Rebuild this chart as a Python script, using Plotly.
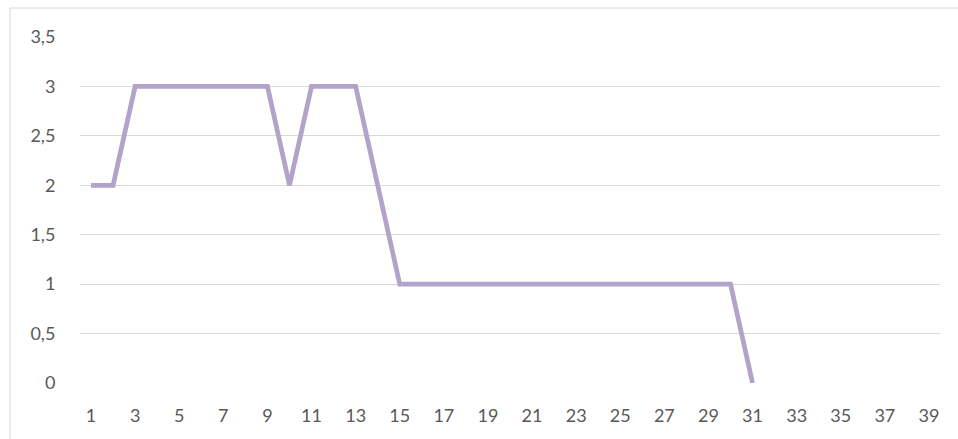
import plotly.graph_objects as go

categories = list(range(1, 40))
values = [2, 2, 3, 3, 3, 3, 3, 3, 3, 2, 3, 3, 3, 2, 1, 1, 1, 1, 1, 1, 1, 1, 1, 1, 1, 1, 1, 1, 1, 1, 0,
          None, None, None, None, None, None, None, None]
x_tick_vals = list(range(1, 40, 2))
y_tick_vals = [0, 0.5, 1, 1.5, 2, 2.5, 3, 3.5]
y_tick_text = ["0", "0,5", "1", "1,5", "2", "2,5", "3", "3,5"]

W, H = 958, 439
L, R, T, B = 79.5, 17.5, 36.5, 56
pw, ph = W - L - R, H - T - B

fig = go.Figure()
fig.add_trace(go.Scatter(
    x=categories, y=values, mode="lines",
    line=dict(color="#B3A3CA", width=4.75),
    connectgaps=False, hoverinfo="skip", showlegend=False,
))

font = dict(family="Lato, Open Sans, sans-serif", size=18, color="#595959")

fig.update_layout(
    width=W, height=H,
    margin=dict(l=L, r=R, t=T, b=B, pad=0),
    paper_bgcolor="white", plot_bgcolor="white",
    font=font,
    xaxis=dict(range=[0.5, 39.5], tickvals=x_tick_vals, showgrid=False,
               zeroline=False, showline=False, ticks="outside", ticklen=16,
               tickcolor="rgba(0,0,0,0)", tickfont=font, fixedrange=True,
               automargin=False),
    yaxis=dict(range=[0, 3.5], tickvals=y_tick_vals, ticktext=y_tick_text,
               showgrid=True, gridcolor="#D9D9D9", gridwidth=1,
               zeroline=False, showline=False, ticks="outside", ticklen=20,
               tickcolor="rgba(0,0,0,0)", tickfont=font, fixedrange=True,
               automargin=False),
)

def px_x(px):
    return (px - L) / pw

def px_y(py):
    return (H - B - py) / ph

# outer chart border (top and left visible)
fig.add_shape(type="rect", xref="paper", yref="paper",
              x0=px_x(9.5), x1=px_x(W + 5), y0=px_y(H + 5), y1=px_y(7.5),
              line=dict(color="#D9D9D9", width=1), fillcolor="rgba(0,0,0,0)",
              layer="below")

fig.write_html("out.html", config={"displayModeBar": False},
               post_script="document.body.style.margin='0';document.body.style.overflow='hidden';")
